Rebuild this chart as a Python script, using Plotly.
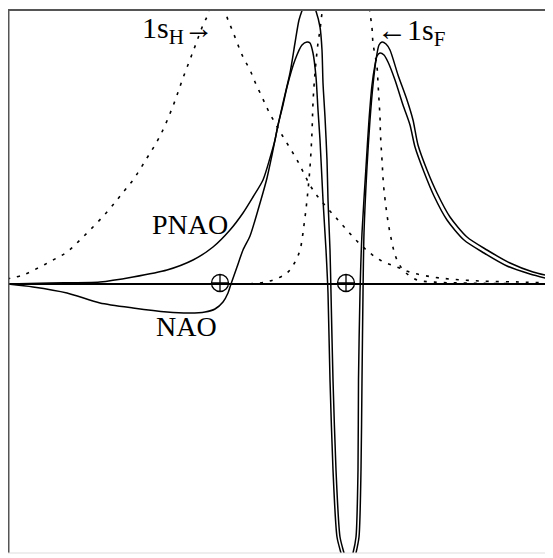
import plotly.graph_objects as go

# Positions along the bond axis (arbitrary units) and amplitudes
h1s_x = [0, 16, 31, 46, 60, 73, 86, 100, 110, 118, 126, 140, 153, 166, 176, 187, 196, 201, 210,
         219, 226, 236, 243, 248, 255, 261, 268, 275, 290, 306, 331, 356, 373, 390, 406, 433, 473, 513, 542]
h1s_y = [5, 9, 16, 24, 32, 44, 57, 72, 84, 94, 104, 126, 148, 178, 206, 235, 259, 270, 314,
         270, 252, 227, 214, 202, 187, 174, 161, 149, 124, 94, 64, 37, 24, 17, 11, 6, 3, 2, 1]

f1s_x = [183, 233, 253, 266, 280, 288, 293, 297, 300, 303, 305, 306, 308, 311, 313, 315, 339,
         363, 365, 366, 370, 371, 372, 373, 373.5, 375, 377, 383, 390, 398, 410, 426, 453, 542]
f1s_y = [0, 0, 1, 4, 11, 22, 34, 59, 84, 117, 152, 181, 211, 241, 254, 271, 434,
         271, 256, 241, 217, 201, 184, 167, 149, 124, 94, 51, 24, 12, 4, 2, 1, 0]

nao_x = [0, 26, 60, 93, 126, 160, 183, 198, 208, 216, 221, 224, 230, 236, 243, 251, 260, 265, 270,
         276, 283, 288, 292, 296, 302, 308, 313, 315, 316, 318, 320, 321, 323, 324, 326, 329, 333,
         337, 343, 349, 352, 354, 355, 356, 357, 360, 363, 366, 369, 372, 375, 379, 383, 391, 400,
         406, 411, 420, 430, 443, 460, 480, 503, 526, 542]
nao_y = [0, -3, -9, -19, -24, -28, -29, -28, -25, -18, -9, 0, 17, 34, 48, 74, 106, 129, 154,
         181, 211, 241, 264, 276, 290, 276, 257, 234, 201, 167, 124, 84, 34, -9, -96, -186, -253,
         -269, -292, -269, -253, -186, -96, -9, 51, 117, 164, 199, 224, 239, 242, 240, 234, 209, 184,
         164, 139, 114, 91, 67, 47, 34, 21, 12, 8]

pnao_x = [0, 43, 93, 126, 160, 186, 206, 223, 236, 246, 256, 263, 268, 271, 276, 280, 288, 295,
          300, 303, 306, 309, 311, 313, 316, 319, 321, 323, 326, 330, 334, 340, 346, 349, 351,
          351.5, 353, 355, 359, 362, 365, 368, 370, 373, 377, 381, 388, 396, 403, 408, 417, 427,
          440, 457, 477, 500, 523, 542]
pnao_y = [0, 1, 2, 7, 14, 24, 37, 54, 71, 87, 104, 126, 144, 159, 179, 197, 224, 239,
          242, 241, 231, 207, 174, 144, 84, 34, -9, -96, -186, -253, -269, -288, -269, -253, -186,
          -96, -9, 51, 117, 164, 199, 219, 228, 231, 229, 222, 204, 179, 159, 137, 112, 88,
          64, 44, 31, 18, 10, 5]

nuclei_x = [213, 339]
nuclei_y = [1, 1]

X_RANGE = [1, 542]
Y_RANGE = [-269, 274]

fig = go.Figure()

dash_style = dict(color="black", width=1.6, dash="3px,7px")
solid_style = dict(color="black", width=1.5)

fig.add_trace(go.Scatter(x=h1s_x, y=h1s_y, mode="lines", line=dash_style,
                         line_shape="spline", hoverinfo="skip", name="1sH"))
fig.add_trace(go.Scatter(x=f1s_x, y=f1s_y, mode="lines", line=dash_style,
                         line_shape="spline", hoverinfo="skip", name="1sF"))
fig.add_trace(go.Scatter(x=nao_x, y=nao_y, mode="lines", line=dict(solid_style, smoothing=0.7),
                         line_shape="spline", hoverinfo="skip", name="NAO"))
fig.add_trace(go.Scatter(x=pnao_x, y=pnao_y, mode="lines", line=dict(solid_style, smoothing=0.7),
                         line_shape="spline", hoverinfo="skip", name="PNAO"))
fig.add_trace(go.Scatter(x=nuclei_x, y=nuclei_y, mode="markers",
                         marker=dict(symbol="circle-cross-open", size=17,
                                     color="black", line=dict(width=1.3, color="black")),
                         hoverinfo="skip", name="nuclei"))

font = dict(family="Liberation Serif, Times New Roman, serif", color="black")

fig.add_annotation(x=183, y=60, text="PNAO", showarrow=False,
                   font=dict(size=28, **font))
fig.add_annotation(x=179, y=-42, text="NAO", showarrow=False,
                   font=dict(size=28, **font))
fig.add_annotation(x=133, y=254, text="1s<sub>H</sub>→", showarrow=False,
                   xanchor="left", font=dict(size=30, **font))
fig.add_annotation(x=368, y=252, text="←1s<sub>F</sub>", showarrow=False,
                   xanchor="left", font=dict(size=30, **font))

# frame
fig.add_shape(type="line", xref="paper", yref="paper", x0=0, x1=0, y0=0, y1=1,
              line=dict(color="#555", width=3))
fig.add_shape(type="line", xref="paper", yref="paper", x0=0, x1=1, y0=1, y1=1,
              line=dict(color="#555", width=2))
fig.add_shape(type="line", xref="paper", yref="paper", x0=1, x1=1, y0=0, y1=1,
              line=dict(color="#aaa", width=1))
fig.add_shape(type="line", xref="paper", yref="paper", x0=0, x1=1, y0=0, y1=0,
              line=dict(color="#ddd", width=1))

fig.update_xaxes(range=X_RANGE, showgrid=False, zeroline=False, showticklabels=False,
                 showline=False, ticks="")
fig.update_yaxes(range=Y_RANGE, showgrid=False, zeroline=True, zerolinecolor="black",
                 zerolinewidth=1.5, showticklabels=False, showline=False, ticks="")

# the page puts the figure 8 px in from the top-left corner
fig.update_layout(width=545, height=550, margin=dict(l=0, r=4, t=2, b=5),
                  paper_bgcolor="white", plot_bgcolor="white", showlegend=False)

fig.write_html("out.html")
